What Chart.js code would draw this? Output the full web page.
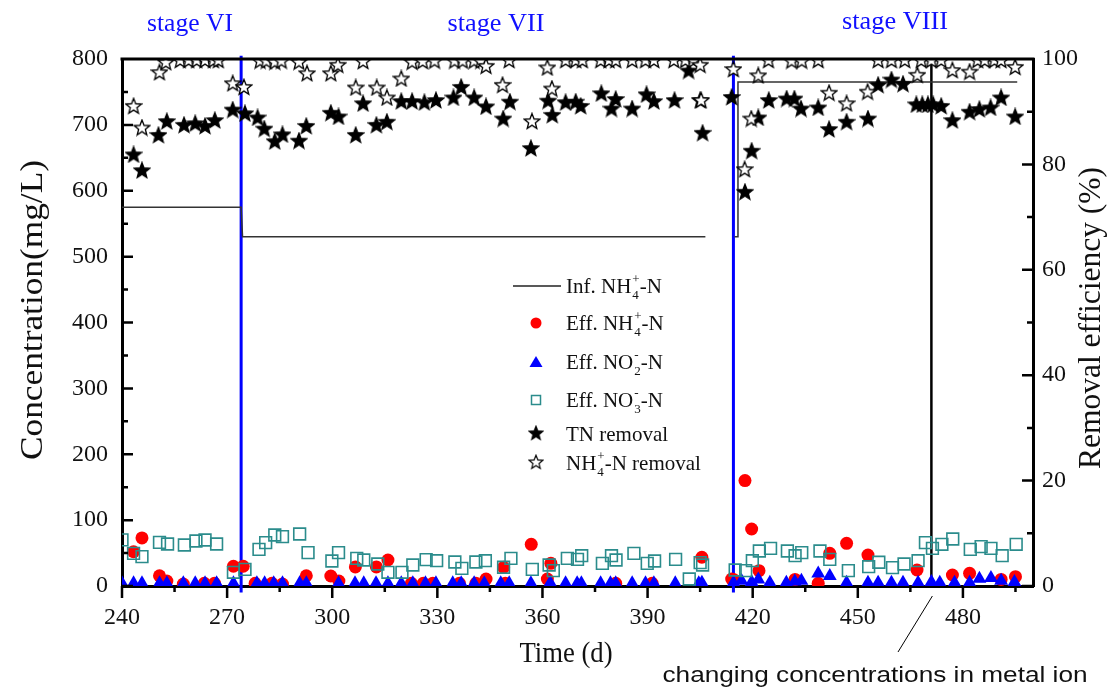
<!DOCTYPE html>
<html>
<head>
<meta charset="utf-8">
<script src="https://cdn.jsdelivr.net/npm/chart.js@4.4.0/dist/chart.umd.min.js"></script>
<style>
  html, body { margin: 0; padding: 0; background: #fff; }
  canvas { display: block; }
</style>
</head>
<body>
<canvas id="nitrogenChart" width="1119" height="693"></canvas>
<script>
// influent NH4+-N (step line), null = break in the line
const infDay  = [240, 274, 274.4, 406.5, 407, 414.8, 415.8, 415.8, 495.5];
const infConc = [575, 575, 530, 530, null, 530, 530, 765, 765];

const effNH4Day = [243.3, 245.7, 250.7, 252.8, 257.5, 263.5, 266.4, 271.8, 274.6, 278, 282.8, 285.8, 292.6, 299.6, 301.9,
  306.6, 312.6, 315.9, 322.6, 326, 328.7, 336.3, 341, 343.9, 348.9, 349.4, 356.8, 361.4, 362.4, 380.9, 391.3, 405.5,
  414, 414.5, 417.8, 419.7, 421.8, 432.1, 438.7, 442, 446.8, 452.9, 466.9, 477, 481.9, 490.9, 495];
const effNH4 = [52, 73, 15.6, 7.6, 3, 4, 4, 30, 30, 4, 4, 3, 15.6, 15.2, 7.6,
  29, 29, 39.5, 4, 4, 4, 4, 4, 10.6, 28.4, 4, 63.3, 10.6, 34.4, 4, 4, 43.6,
  10.6, 10, 160, 86.5, 23.3, 10, 4, 49.6, 64.8, 47, 24.3, 16.7, 19.2, 10, 14.2];

const effNO2Day = [240, 243.3, 245.7, 250.7, 252.8, 257.5, 260.9, 263.7, 267, 271.8, 278.5, 280.7, 283.3, 285.8, 290.7,
  292.6, 301.8, 306.5, 309, 312.5, 315.9, 319.7, 323, 326.6, 329.6, 334.4, 336.8, 340.5, 343.4, 348.1, 350.5, 356.7,
  362.2, 366.6, 369.9, 371.1, 376.6, 379.4, 380.9, 385.6, 389.4, 391.8, 397.9, 404.6, 405.5, 414.5, 416.8, 419.7,
  421.6, 424.9, 429.6, 432, 433.9, 438.7, 442, 446.8, 452.9, 455.8, 459.6, 462.9, 467.2, 471, 473.4, 477.6, 481.9,
  484.7, 488, 490.9, 494.7];
const effNO2 = [4, 4, 4, 4, 4, 4, 4, 4, 4, 4, 4, 4, 4, 4, 4,
  4, 4, 4, 4, 4, 4, 4, 4, 4, 4, 4, 4, 4, 4, 4, 4, 4,
  5, 4, 4, 4, 4, 4, 4, 4, 4, 4, 4, 4, 5, 5, 8, 6,
  10, 5, 5, 7, 8, 19, 15, 5, 5, 5, 5, 5, 5, 6, 5, 5, 5,
  11, 12, 8, 6];

const effNO3Day = [240, 243.3, 245.7, 250.7, 253, 257.8, 261.1, 263.7, 267, 271.8, 275.1, 279.1, 281, 283.6, 285.8,
  290.7, 293.1, 299.9, 301.8, 307, 309, 313, 315.9, 319.9, 323, 326.8, 329.8, 335, 337, 341, 343.7, 348.9, 351,
  357.1, 361.9, 363.1, 367.1, 370, 371.2, 377.1, 379.7, 381, 386.1, 389.9, 392, 398, 401.9, 405, 405.7,
  415, 418, 419.9, 421.9, 425.1, 429.9, 432.1, 434, 439.2, 442, 447.3, 453.1, 456, 459.9, 463.2, 467.2,
  469.3, 471.3, 474, 477.1, 482.1, 485.2, 488, 491.2, 495.2];
const effNO3 = [70, 49.6, 44.5, 66.3, 63.8, 62.2, 68.3, 69.8, 63.8, 20.8, 25.3, 55.7, 65.8, 77.4, 74.9,
  78.9, 50.6, 38, 50.6, 42, 39.5, 33.4, 20.8, 20.8, 31.9, 40, 38.4, 36.4, 26.8, 36.4, 38.4, 28.4, 42,
  25.3, 31.9, 23.3, 42, 40.5, 46, 34.4, 46, 39.5, 49.6, 34.4, 38, 40.5, 10.6, 35.4, 31.9,
  24.3, 23.3, 38.4, 53.1, 57.2, 53.1, 46, 50.6, 53.1, 40.5, 23.3, 29.3, 36, 27.8, 33.4, 38.4,
  65.8, 57.2, 63.3, 71.3, 55.7, 59.7, 57.2, 46, 63.3];

const tnRemDay = [243.3, 245.7, 250.4, 252.8, 257.7, 260.9, 263.7, 266.5, 271.6, 275.1, 278.7, 280.6, 283.6, 285.8,
  290.5, 292.6, 299.6, 301.8, 306.7, 308.8, 312.6, 315.6, 319.7, 322.8, 326.3, 329.6, 334.6, 336.8, 340.5, 343.9,
  348.8, 350.7, 356.7, 361.6, 362.8, 366.6, 369.5, 370.9, 376.8, 379.7, 380.9, 385.6, 389.7, 391.8, 397.7, 401.7,
  405, 405.7, 414, 417.8, 419.7, 421.6, 424.6, 429.7, 431.9, 433.8, 438.7, 441.8, 446.8, 452.9, 455.8, 459.6,
  462.9, 466.7, 468.4, 470, 471.5, 473.8, 477, 481.9, 484.7, 487.9, 490.9, 494.9];
const tnRem = [81.9, 78.9, 85.6, 88.2, 87.5, 87.8, 87.3, 88.4, 90.4, 89.7, 88.9, 86.8, 84.4, 85.7,
  84.5, 87.3, 89.8, 89.1, 85.6, 91.6, 87.5, 88.1, 92, 92, 91.8, 92.2, 92.7, 94.7, 92.7, 91,
  88.7, 91.9, 83.1, 92.1, 89.4, 91.8, 91.9, 91.1, 93.5, 90.6, 92.4, 90.6, 93.3, 92, 92.2, 97.8,
  92.2, 86, 92.8, 74.8, 82.6, 88.9, 92.2, 92.5, 92.5, 90.6, 90.8, 86.7, 88.1, 88.7, 95.1, 96.1,
  95.3, 91.4, 91.4, 91.4, 91.4, 91.1, 88.4, 90, 90.5, 90.8, 92.7, 89.1];

const nh4RemDay = [243.3, 245.7, 250.7, 252.5, 256.6, 259, 261.3, 263.7, 266.1, 267.5, 271.6, 274.8, 279.4, 281.2,
  283.6, 285.5, 290.5, 292.8, 299.6, 301.6, 306.7, 308.8, 312.7, 315.6, 319.7, 322.8, 325.8, 329.2, 334.9, 337.2,
  340.5, 342.4, 343.9, 348.6, 350.5, 357, 361.4, 362.7, 366.6, 369.5, 371.4, 376.6, 379, 380.9, 385.6, 389.4,
  391.8, 397.5, 400.8, 403.1, 405, 405.3, 414.5, 417.7, 419.6, 421.6, 424.5, 431.1, 434, 438.7, 441.8, 446.8,
  452.8, 455.8, 459.6, 463.4, 467, 468.1, 471, 473.8, 477, 481.9, 484.2, 486.2, 489, 490.9, 494.9];
const nh4Rem = [91.1, 87, 97.5, 99.4, 99.8, 99.8, 99.8, 99.8, 99.8, 99.8, 95.4, 94.7, 99.7, 99.7,
  99.5, 99.7, 99.5, 97.3, 97.3, 98.9, 94.6, 99.6, 94.6, 92.7, 96.3, 99.5, 99.6, 99.7, 99.7, 99.7,
  99.7, 99.7, 98.7, 95.1, 99.8, 88.2, 98.4, 94.4, 99.8, 99.8, 99.8, 99.8, 99.8, 99.8, 99.8, 99.8,
  99.8, 99.8, 99.8, 99.8, 98.9, 92.2, 98.1, 79.1, 88.7, 96.9, 99.8, 99.7, 99.7, 99.8, 93.6, 91.6,
  93.8, 99.8, 99.8, 99.8, 97, 99.8, 99.8, 99.8, 97.9, 97.6, 99.8, 99.8, 99.8, 99.8, 98.5];

// stage boundaries and the metal-ion change (days)
const stageBreaks = [274, 414.5];
const metalChangeDay = 471;
const stageNames = ['stage VI', 'stage VII', 'stage VIII'];

const xTicks = [240, 270, 300, 330, 360, 390, 420, 450, 480];
const yTicks = [0, 100, 200, 300, 400, 500, 600, 700, 800];
const y2Ticks = [0, 20, 40, 60, 80, 100];

const pts = (xs, ys) => xs.map((x, i) => ({ x: x, y: ys[i] }));
const vline = d => [{ x: d, y: -10 }, { x: d, y: 805 }];

function makeStar(fill) {
  const c = document.createElement('canvas');
  c.width = 18; c.height = 18;
  const g = c.getContext('2d');
  g.beginPath();
  for (let i = 0; i < 10; i++) {
    const r = i % 2 ? 3.5 : 8.2;
    const a = -Math.PI / 2 + i * Math.PI / 5;
    const px = 9 + r * Math.cos(a), py = 9.6 + r * Math.sin(a);
    if (i) g.lineTo(px, py); else g.moveTo(px, py);
  }
  g.closePath();
  g.fillStyle = fill;
  g.fill();
  g.lineWidth = 1.3;
  g.strokeStyle = '#000';
  g.stroke();
  return c;
}
const starFull = makeStar('#000');
const starOpen = makeStar('#fff');

const SERIF = '"Liberation Serif", "Times New Roman", serif';
const TEAL = '#2b8c8c';

function fitText(ctx, text, cx, cy, width, font, color, rot) {
  ctx.save();
  ctx.translate(cx, cy);
  if (rot) ctx.rotate(rot);
  ctx.font = font;
  const w = ctx.measureText(text).width;
  ctx.scale(width / w, 1);
  ctx.textAlign = 'center';
  ctx.textBaseline = 'middle';
  ctx.fillStyle = color;
  ctx.fillText(text, 0, 0);
  ctx.restore();
}

function richText(ctx, parts, x, y, size) {
  ctx.fillStyle = '#111';
  ctx.textAlign = 'left';
  ctx.textBaseline = 'alphabetic';
  const base = y + size * 0.33;
  for (const p of parts) {
    if (p.t) {
      ctx.font = size + 'px ' + SERIF;
      ctx.fillText(p.t, x, base);
      x += ctx.measureText(p.t).width;
    } else {
      ctx.font = Math.round(size * 0.62) + 'px ' + SERIF;
      ctx.fillText(p.sub, x + 1, base + size * 0.28);
      ctx.fillText(p.sup, x + 1, base - size * 0.45);
      x += Math.max(ctx.measureText(p.sub).width, ctx.measureText(p.sup).width) + 1;
    }
  }
}

const legendRows = [
  { y: 286, parts: [{ t: 'Inf. NH' }, { sub: '4', sup: '+' }, { t: '-N' }] },
  { y: 323, parts: [{ t: 'Eff. NH' }, { sub: '4', sup: '+' }, { t: '-N' }] },
  { y: 362, parts: [{ t: 'Eff. NO' }, { sub: '2', sup: '-' }, { t: '-N' }] },
  { y: 400, parts: [{ t: 'Eff. NO' }, { sub: '3', sup: '-' }, { t: '-N' }] },
  { y: 434, parts: [{ t: 'TN removal' }] },
  { y: 463, parts: [{ t: 'NH' }, { sub: '4', sup: '+' }, { t: '-N removal' }] }
];

const decor = {
  id: 'decor',
  afterDraw(chart) {
    const ctx = chart.ctx;
    const a = chart.chartArea;
    const sx = chart.scales.x, sy = chart.scales.y, sy2 = chart.scales.y2;

    // frame top line
    ctx.save();
    ctx.strokeStyle = '#000';
    ctx.lineWidth = 3;
    ctx.beginPath();
    ctx.moveTo(a.left - 1.5, a.top);
    ctx.lineTo(a.right + 1.5, a.top);
    ctx.stroke();

    // tick marks: x outward, y inward
    ctx.lineWidth = 2.5;
    ctx.beginPath();
    for (let v = 240; v <= 495; v += 15) {
      const px = sx.getPixelForValue(v);
      const len = (v - 240) % 30 === 0 ? 12 : 6;
      ctx.moveTo(px, a.bottom);
      ctx.lineTo(px, a.bottom + len);
    }
    for (let v = 0; v < 800; v += 50) {
      const py = sy.getPixelForValue(v);
      ctx.moveTo(a.left, py);
      ctx.lineTo(a.left + (v % 100 === 0 ? 11 : 6), py);
    }
    for (let v = 0; v < 100; v += 10) {
      const py = sy2.getPixelForValue(v);
      ctx.moveTo(a.right, py);
      ctx.lineTo(a.right - (v % 20 === 0 ? 11 : 6), py);
    }
    ctx.stroke();

    // axis titles
    fitText(ctx, 'Concentration(mg/L)', 34, 310, 300, '31px ' + SERIF, '#111', -Math.PI / 2);
    fitText(ctx, 'Removal efficiency (%)', 1092, 318, 302, '31px ' + SERIF, '#111', -Math.PI / 2);
    fitText(ctx, 'Time (d)', 566, 654, 93, '29px ' + SERIF, '#111', 0);

    // stage labels
    fitText(ctx, stageNames[0], 190, 24, 86, '25px ' + SERIF, '#1010ff', 0);
    fitText(ctx, stageNames[1], 496, 24, 97, '25px ' + SERIF, '#1010ff', 0);
    fitText(ctx, stageNames[2], 895, 22, 106, '25px ' + SERIF, '#1010ff', 0);

    // metal ion annotation
    ctx.strokeStyle = '#000';
    ctx.lineWidth = 1;
    ctx.beginPath();
    ctx.moveTo(sx.getPixelForValue(metalChangeDay) + 1, a.bottom + 10);
    ctx.lineTo(898, 652);
    ctx.stroke();
    fitText(ctx, 'changing concentrations in metal ion', 875, 676, 425, '22px "Liberation Sans", Arial, sans-serif', '#111', 0);

    // legend
    const mx = 536;
    ctx.lineWidth = 1.5;
    ctx.strokeStyle = '#222';
    ctx.beginPath();
    ctx.moveTo(513, legendRows[0].y);
    ctx.lineTo(561, legendRows[0].y);
    ctx.stroke();
    ctx.fillStyle = '#ff0000';
    ctx.beginPath();
    ctx.arc(mx, legendRows[1].y, 5.5, 0, Math.PI * 2);
    ctx.fill();
    ctx.fillStyle = '#0000ff';
    ctx.beginPath();
    ctx.moveTo(mx, legendRows[2].y - 6);
    ctx.lineTo(mx + 6.5, legendRows[2].y + 5);
    ctx.lineTo(mx - 6.5, legendRows[2].y + 5);
    ctx.closePath();
    ctx.fill();
    ctx.strokeStyle = TEAL;
    ctx.lineWidth = 1.5;
    ctx.strokeRect(mx - 4.5, legendRows[3].y - 4.5, 9, 9);
    ctx.drawImage(starFull, mx - 8, legendRows[4].y - 9, 16, 16);
    ctx.drawImage(starOpen, mx - 8, legendRows[5].y - 9, 16, 16);
    for (const row of legendRows) richText(ctx, row.parts, 566, row.y, 21);
    ctx.restore();
  }
};

Chart.defaults.font.family = SERIF;
Chart.defaults.color = '#111';

const ctx_1 = document.getElementById('nitrogenChart').getContext('2d');
const nitrogenChart = new Chart(ctx_1, {
  type: 'scatter',
  data: {
    datasets: [
      { label: 'NH4+-N removal', data: pts(nh4RemDay, nh4Rem), yAxisID: 'y2', pointStyle: starOpen, clip: 0 },
      { label: 'TN removal', data: pts(tnRemDay, tnRem), yAxisID: 'y2', pointStyle: starFull, clip: 0 },
      { label: 'Eff. NO3--N', data: pts(effNO3Day, effNO3), yAxisID: 'y', pointStyle: 'rect',
        pointRadius: 8.3, backgroundColor: 'rgba(0,0,0,0)', borderColor: TEAL, borderWidth: 1.6, clip: 0 },
      { label: 'Eff. NO2--N', data: pts(effNO2Day, effNO2), yAxisID: 'y', pointStyle: 'triangle',
        pointRadius: 8, backgroundColor: '#0000ff', borderColor: '#0000ff', borderWidth: 0, clip: 0 },
      { label: 'Eff. NH4+-N', data: pts(effNH4Day, effNH4), yAxisID: 'y', pointStyle: 'circle',
        pointRadius: 6.5, backgroundColor: '#ff0000', borderColor: '#ff0000', borderWidth: 0, clip: 0 },
      { label: 'Inf. NH4+-N', type: 'line', data: pts(infDay, infConc), yAxisID: 'y',
        borderColor: '#333', borderWidth: 1.5, pointRadius: 0, spanGaps: false },
      { label: 'stage break 1', type: 'line', data: vline(stageBreaks[0]), yAxisID: 'y',
        borderColor: '#0000ff', borderWidth: 3, pointRadius: 0, clip: false },
      { label: 'stage break 2', type: 'line', data: vline(stageBreaks[1]), yAxisID: 'y',
        borderColor: '#0000ff', borderWidth: 3, pointRadius: 0, clip: false },
      { label: 'metal ion', type: 'line', data: [{ x: metalChangeDay, y: 0 }, { x: metalChangeDay, y: 800 }],
        yAxisID: 'y', borderColor: '#000', borderWidth: 2.5, pointRadius: 0 }
    ]
  },
  options: {
    responsive: false,
    animation: false,
    layout: { padding: { top: 59, left: 0, right: 0, bottom: 0 } },
    plugins: { legend: { display: false }, tooltip: { enabled: false } },
    scales: {
      x: {
        type: 'linear', min: 240, max: 500,
        grid: { display: false },
        border: { display: true, width: 3, color: '#000' },
        ticks: { padding: 9, font: { size: 24 }, maxRotation: 0 },
        afterBuildTicks: s => { s.ticks = xTicks.map(v => ({ value: v })); },
        afterFit: s => { s.height = 107; }
      },
      y: {
        position: 'left', min: 0, max: 800,
        grid: { display: false },
        border: { display: true, width: 3, color: '#000' },
        ticks: { padding: 6, font: { size: 24 } },
        afterBuildTicks: s => { s.ticks = yTicks.map(v => ({ value: v })); },
        afterFit: s => { s.width = 122; }
      },
      y2: {
        position: 'right', min: 0, max: 100,
        grid: { display: false },
        border: { display: true, width: 3, color: '#000' },
        ticks: { padding: 1, font: { size: 24 } },
        afterBuildTicks: s => { s.ticks = y2Ticks.map(v => ({ value: v })); },
        afterFit: s => { s.width = 86; }
      }
    }
  },
  plugins: [decor]
});
</script>
</body>
</html>
